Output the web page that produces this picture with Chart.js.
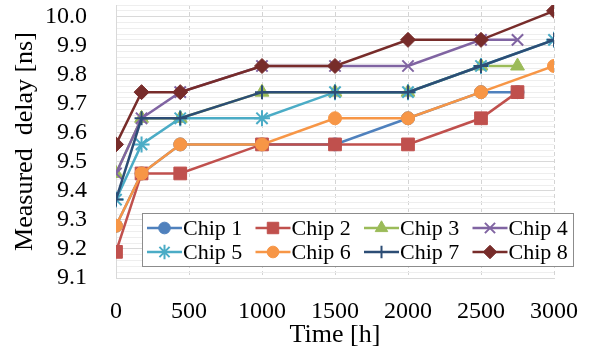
<!DOCTYPE html>
<html>
<head>
<meta charset="utf-8">
<script src="https://cdn.jsdelivr.net/npm/chart.js@4.4.0/dist/chart.umd.min.js"></script>
<style>
  html, body { margin: 0; padding: 0; background: #fff; }
</style>
</head>
<body>
<canvas id="chart" width="592" height="351"></canvas>
<script>
// time points (h) - chips 1-4 stop at 2750, chips 5-8 go to 3000
const timesShort = [0, 175, 440, 1000, 1500, 2000, 2500, 2750];
const timesLong = [0, 175, 440, 1000, 1500, 2000, 2500, 3000];

// measured delay [ns]
const chip1 = [9.28, 9.46, 9.56, 9.56, 9.56, 9.65, 9.74, 9.74];
const chip2 = [9.19, 9.46, 9.46, 9.56, 9.56, 9.56, 9.65, 9.74];
const chip3 = [9.46, 9.65, 9.65, 9.74, 9.74, 9.74, 9.83, 9.83];
const chip4 = [9.46, 9.65, 9.74, 9.83, 9.83, 9.83, 9.92, 9.92];
const chip5 = [9.37, 9.56, 9.65, 9.65, 9.74, 9.74, 9.83, 9.92];
const chip6 = [9.28, 9.46, 9.56, 9.56, 9.65, 9.65, 9.74, 9.83];
const chip7 = [9.37, 9.65, 9.65, 9.74, 9.74, 9.74, 9.83, 9.92];
const chip8 = [9.56, 9.74, 9.74, 9.83, 9.83, 9.92, 9.92, 10.02];

const chipNames = ['Chip 1', 'Chip 2', 'Chip 3', 'Chip 4', 'Chip 5', 'Chip 6', 'Chip 7', 'Chip 8'];
const xTicks = [0, 500, 1000, 1500, 2000, 2500, 3000];
const yLabels = ['9.1', '9.2', '9.3', '9.4', '9.5', '9.6', '9.7', '9.8', '9.9', '10.0'];

// styles
const colors = ['#4F81BD', '#C0504D', '#9BBB59', '#8064A2', '#4BACC6', '#F79646', '#2C4D75', '#772C2A'];
const markers = ['circle', 'rect', 'triangle', 'crossRot', 'star', 'circle', 'cross', 'rectRot'];
const radii = [6.5, 9, 8, 8, 8, 6.5, 7, 7.5];
const FONT = '"Liberation Serif", "Times New Roman", serif';

const series = [chip1, chip2, chip3, chip4, chip5, chip6, chip7, chip8];
const datasets = series.map((vals, i) => {
  const times = i < 4 ? timesShort : timesLong;
  const strokeOnly = ['crossRot', 'star', 'cross'].includes(markers[i]);
  return {
    label: chipNames[i],
    data: vals.map((v, k) => ({ x: times[k], y: v })),
    borderColor: colors[i],
    backgroundColor: colors[i],
    pointBackgroundColor: colors[i],
    pointBorderColor: colors[i],
    pointBorderWidth: strokeOnly ? 2 : 1,
    pointStyle: markers[i],
    pointRadius: radii[i],
    borderWidth: 2.5,
    tension: 0,
    order: 8 - i // later chips drawn on top, like the original
  };
});

// legend box drawn inside the plot
const boxLegend = {
  id: 'boxLegend',
  afterDraw(chart) {
    const { ctx, chartArea } = chart;
    const x0 = chartArea.left + 26, y0 = chartArea.bottom - 65, w = 431, h = 53;
    ctx.save();
    ctx.fillStyle = '#fff';
    ctx.fillRect(x0, y0, w, h);
    ctx.strokeStyle = '#8c8c8c';
    ctx.lineWidth = 1;
    ctx.strokeRect(x0 + 0.5, y0 + 0.5, w, h);
    ctx.font = '22px ' + FONT;
    ctx.textBaseline = 'middle';
    chart.data.datasets.forEach((ds, i) => {
      const lx = x0 + 5 + (i % 4) * 108.5;
      const ly = y0 + 15 + Math.floor(i / 4) * 24;
      ctx.strokeStyle = ds.borderColor;
      ctx.lineWidth = 2.5;
      ctx.beginPath();
      ctx.moveTo(lx, ly);
      ctx.lineTo(lx + 35, ly);
      ctx.stroke();
      ctx.fillStyle = ds.pointBackgroundColor;
      ctx.strokeStyle = ds.pointBorderColor;
      ctx.lineWidth = ds.pointBorderWidth;
      if (Chart.helpers && Chart.helpers.drawPoint) {
        Chart.helpers.drawPoint(ctx, { pointStyle: ds.pointStyle, radius: ds.pointRadius * 0.9, rotation: 0, borderWidth: ds.pointBorderWidth }, lx + 17.5, ly);
      } else {
        ctx.beginPath(); ctx.arc(lx + 17.5, ly, 5, 0, Math.PI * 2); ctx.fill();
      }
      ctx.fillStyle = '#000';
      ctx.fillText(ds.label, lx + 36, ly + 1);
    });
    ctx.restore();
  }
};

const isMajor = (v) => Math.abs(v * 10 - Math.round(v * 10)) < 1e-6;

new Chart(document.getElementById('chart'), {
  type: 'line',
  data: { datasets },
  options: {
    responsive: false,
    animation: false,
    devicePixelRatio: 1,
    layout: { autoPadding: false, padding: { top: 5, right: 38, left: 0, bottom: 0 } },
    plugins: { legend: { display: false }, tooltip: { enabled: false } },
    scales: {
      x: {
        type: 'linear',
        min: 0,
        max: 3000,
        afterBuildTicks: (s) => { s.ticks = xTicks.map(v => ({ value: v })); },
        afterFit: (s) => { s.height = 73; s.paddingLeft = 0; s.paddingRight = 0; },
        ticks: { autoSkip: false, maxRotation: 0, padding: 19, color: '#000', font: { family: FONT, size: 24 }, callback: (v) => String(v) },
        grid: { color: '#d4d4d4', lineWidth: 1, drawTicks: false },
        border: { color: '#d9d9d9', dash: [4, 3] },
        title: { display: true, text: 'Time [h]', color: '#000', font: { family: FONT, size: 26 }, padding: { top: 0, bottom: 0 } }
      },
      y: {
        min: 9.1,
        max: 10.04,
        afterBuildTicks: (s) => {
          const t = [];
          for (let k = 0; k <= 47; k++) t.push({ value: Math.round((9.1 + k * 0.02) * 100) / 100 });
          s.ticks = t;
        },
        afterFit: (s) => { s.width = 116; s.paddingTop = 0; s.paddingBottom = 0; },
        ticks: {
          autoSkip: false,
          padding: 29,
          color: '#000',
          font: { family: FONT, size: 24 },
          callback: (v) => (isMajor(v) && yLabels.includes(v.toFixed(1)) ? v.toFixed(1) : '')
        },
        grid: {
          drawTicks: false,
          lineWidth: 1,
          color: (c) => (c.tick && isMajor(c.tick.value) ? '#d9d9d9' : '#eeeeee')
        },
        border: { color: '#d9d9d9' },
        title: { display: true, text: 'Measured  delay [ns]', color: '#000', font: { family: FONT, size: 26 }, padding: { top: 10, bottom: 0 } }
      }
    }
  },
  plugins: [boxLegend]
});
</script>
</body>
</html>
